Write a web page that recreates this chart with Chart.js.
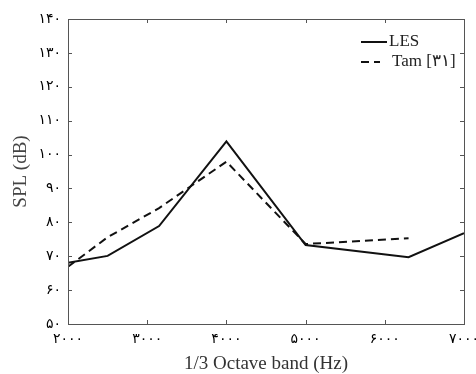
<!DOCTYPE html>
<html>
<head>
<meta charset="utf-8">
<script src="https://cdn.jsdelivr.net/npm/chart.js@4.4.0/dist/chart.umd.min.js"></script>
<style>
  html, body { margin: 0; padding: 0; background: #fff; }
  #wrap { width: 476px; height: 374px; }
</style>
</head>
<body>
<div id="wrap"><canvas id="myChart"></canvas></div>
<script>
// values
const lesFreq = [2000, 2500, 3150, 4000, 5000, 6300, 7000];
const lesSpl = [68.1, 70.1, 78.9, 103.9, 73.3, 69.7, 76.8];
const tamFreq = [2000, 2500, 3150, 4000, 5000, 6300];
const tamSpl = [66.9, 75.6, 84.2, 97.9, 73.6, 75.3];
const xTicks = [2000, 3000, 4000, 5000, 6000, 7000];
const yTicks = [50, 60, 70, 80, 90, 100, 110, 120, 130, 140];

const serif = '"Liberation Serif", "Times New Roman", serif';
const tickFont = '"DejaVu Sans", "Liberation Serif", serif';

function toPersian(n) {
    const digits = "۰۱۲۳۴۵۶۷۸۹";
    return String(n).replace(/[0-9]/g, function(d){ return digits[+d]; });
}

function pts(xs, ys) {
    return xs.map(function(x, i){ return {x: x, y: ys[i]}; });
}

// box frame with inward ticks on all four sides
const frameTicks = {
    id: "frameTicks",
    afterDraw(chart) {
        const ctx = chart.ctx;
        const a = chart.chartArea;
        const xs = chart.scales.x, ys = chart.scales.y;
        const len = 4;
        ctx.save();
        ctx.strokeStyle = "#555";
        ctx.lineWidth = 1;
        ctx.strokeRect(Math.round(a.left) + 0.5, Math.round(a.top) + 0.5,
                       Math.round(a.right - a.left), Math.round(a.bottom - a.top));
        ctx.beginPath();
        xTicks.forEach(function(v){
            const px = Math.round(xs.getPixelForValue(v)) + 0.5;
            ctx.moveTo(px, a.bottom); ctx.lineTo(px, a.bottom - len);
            ctx.moveTo(px, a.top); ctx.lineTo(px, a.top + len);
        });
        yTicks.forEach(function(v){
            const py = Math.round(ys.getPixelForValue(v)) + 0.5;
            ctx.moveTo(a.left, py); ctx.lineTo(a.left + len, py);
            ctx.moveTo(a.right, py); ctx.lineTo(a.right - len, py);
        });
        ctx.stroke();
        ctx.restore();
    }
};

// legend inside the plot, top right
const insideLegend = {
    id: "insideLegend",
    afterDraw(chart) {
        const ctx = chart.ctx;
        const a = chart.chartArea;
        const x0 = a.right - 103;
        ctx.save();
        ctx.font = "17px " + serif;
        ctx.fillStyle = "#222";
        ctx.textBaseline = "middle";
        chart.data.datasets.forEach(function(ds, i){
            const y = a.top + 23 + i * 20;
            ctx.strokeStyle = ds.borderColor;
            ctx.lineWidth = 2;
            ctx.setLineDash(ds.borderDash || []);
            ctx.beginPath();
            ctx.moveTo(x0, y);
            ctx.lineTo(x0 + (ds.borderDash ? 19 : 26), y);
            ctx.stroke();
            ctx.setLineDash([]);
            ctx.fillText(ds.label, x0 + (ds.borderDash ? 31 : 28), y);
        });
        ctx.restore();
    }
};

const config = {
    type: "line",
    data: {
        datasets: [
            {
                label: "LES",
                data: pts(lesFreq, lesSpl),
                borderColor: "#111",
                borderWidth: 2,
                pointRadius: 0,
                tension: 0,
                fill: false
            },
            {
                label: "Tam [" + toPersian(31) + "]",
                data: pts(tamFreq, tamSpl),
                borderColor: "#111",
                borderWidth: 2,
                borderDash: [8, 5],
                pointRadius: 0,
                tension: 0,
                fill: false
            }
        ]
    },
    options: {
        responsive: true,
        maintainAspectRatio: false,
        animation: false,
        layout: { padding: { top: 19, right: 12, left: 0, bottom: 0 } },
        plugins: {
            legend: { display: false },
            tooltip: { enabled: false }
        },
        scales: {
            x: {
                type: "linear",
                min: 2000,
                max: 7000,
                afterBuildTicks: function(s){ s.ticks = xTicks.map(function(v){ return {value: v}; }); },
                afterFit: function(s){ s.height = 50; s.paddingRight = 0; s.paddingLeft = 0; },
                grid: { display: false, drawTicks: false },
                border: { display: false },
                ticks: {
                    padding: 7,
                    color: "#000",
                    font: { family: tickFont, size: 14 },
                    maxRotation: 0,
                    callback: function(v){ return toPersian(v); }
                },
                title: {
                    display: true,
                    text: "1/3 Octave band (Hz)",
                    color: "#333",
                    font: { family: serif, size: 19, lineHeight: 1 },
                    padding: { top: 0, bottom: 0 }
                }
            },
            y: {
                min: 50,
                max: 140,
                afterBuildTicks: function(s){ s.ticks = yTicks.map(function(v){ return {value: v}; }); },
                afterFit: function(s){ s.width = 68; },
                grid: { display: false, drawTicks: false },
                border: { display: false },
                ticks: {
                    padding: 7,
                    color: "#000",
                    font: { family: tickFont, size: 14 },
                    callback: function(v){ return toPersian(v); }
                },
                title: {
                    display: true,
                    text: "SPL (dB)",
                    color: "#444",
                    font: { family: serif, size: 19, lineHeight: 1 },
                    padding: { top: 12, bottom: 0 }
                }
            }
        }
    },
    plugins: [frameTicks, insideLegend]
};

const myChart = new Chart(document.getElementById("myChart"), config);
</script>
</body>
</html>
